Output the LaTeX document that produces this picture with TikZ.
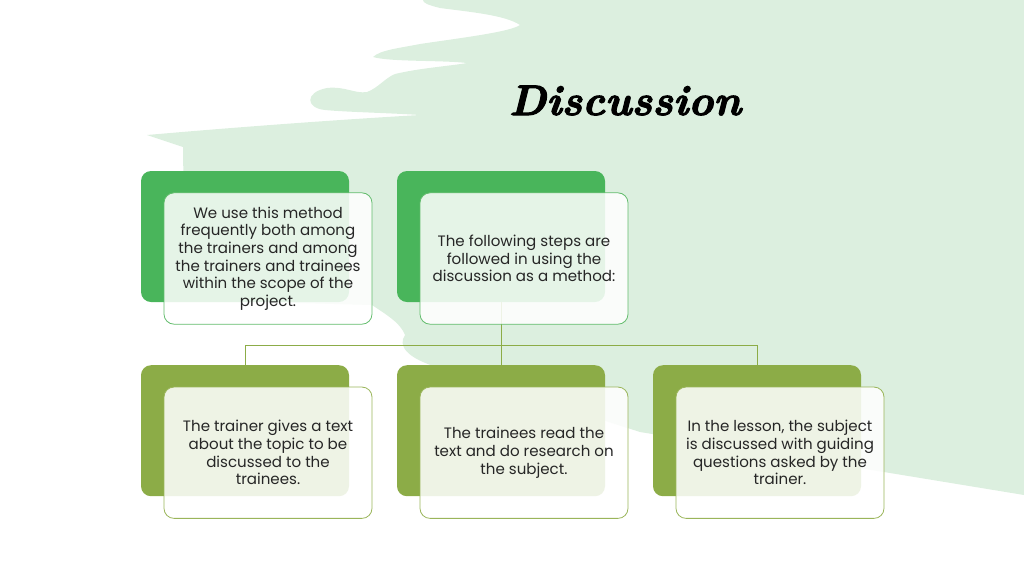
\documentclass[tikz,border=0pt]{standalone}
\usepackage{fontspec}
\newfontfamily\bodyfont{Poppins}
\newfontfamily\titlefont{lmroman10-bolditalic.otf}[FakeBold=2.5]
\usetikzlibrary{positioning}

\definecolor{brush}{HTML}{DCEFDF}
\definecolor{topgreen}{HTML}{49B55B}
\definecolor{lowgreen}{HTML}{8CAC47}
\definecolor{topline}{HTML}{62BC6C}
\definecolor{lowline}{HTML}{9AB55A}
\definecolor{ink}{HTML}{262626}

\begin{document}
\begin{tikzpicture}[x=0.75pt, y=-0.75pt,
  back/.style={rectangle, rounded corners=7.5pt, minimum width=156pt, minimum height=98.25pt, inner sep=0pt},
  front/.style={rectangle, rounded corners=7.5pt, fill=white, fill opacity=0.86, text opacity=1, line width=0.6pt,
    minimum width=156pt, minimum height=98.5pt, inner sep=0pt, align=center, text=ink,
    font=\bodyfont\fontsize{11.3}{13.2}\selectfont},
  conn/.style={draw=lowgreen, line width=0.6pt}]

  \useasboundingbox (0,0) rectangle (1024,576);

  % brush stroke behind everything
  \fill[brush] (423,0) -- (1024,0) -- (1024,495) -- (890,473) -- (640,432) -- (440,368)
    .. controls (405,358) and (398,345) .. (405,335) .. controls (400,322) and (385,314) .. (372,305)
    -- (185,300) -- (183,147) -- (147,135)
    .. controls (250,126) and (350,119) .. (420,115)
    .. controls (390,113) and (345,112) .. (325,110)
    .. controls (305,108) and (305,92) .. (327,88)
    .. controls (345,86) and (355,94) .. (367,92)
    .. controls (378,88) and (385,78) .. (395,74)
    .. controls (420,68) and (450,66) .. (467,63)
    .. controls (440,60) and (390,62) .. (373,57)
    .. controls (380,50) and (400,48) .. (420,44)
    .. controls (460,38) and (510,32) .. (520,25)
    .. controls (505,15) and (470,12) .. (440,8)
    .. controls (428,5) and (423,3) .. (423,0) -- cycle;

  \node[anchor=base, font=\titlefont\fontsize{32}{38}\selectfont] (title) at (625,115) {Discussion};

  % back boxes
  \node[back, fill=topgreen] (b1) at (245,236.5) {};
  \node[back, fill=topgreen, right=35.6pt of b1] (b2) {};
  \node[back, fill=lowgreen, below=47pt of b1] (b3) {};
  \node[back, fill=lowgreen, right=35.6pt of b3] (b4) {};
  \node[back, fill=lowgreen, right=35.6pt of b4] (b5) {};

  % tree lines
  \coordinate (hub) at ([yshift=15pt]b4.north);
  \draw[conn] (b2.south) -- (b4.north);
  \draw[conn] (b3.north) |- (hub) -| (b5.north);

  % front boxes
  \node[front, draw=topline] (f1) at ([xshift=17.25pt, yshift=-16.5pt]b1.center)
    {We use this method\\frequently both among\\the trainers and among\\the trainers and trainees\\within the scope of the\\project.};
  \node[front, draw=topline] (f2) at ([xshift=17.25pt, yshift=-16.5pt]b2.center)
    {The following steps are\\followed in using the\\discussion as a method:};
  \node[front, draw=lowline] (f3) at ([xshift=17.25pt, yshift=-16.5pt]b3.center)
    {The trainer gives a text\\about the topic to be\\discussed to the\\trainees.};
  \node[front, draw=lowline] (f4) at ([xshift=17.25pt, yshift=-16.5pt]b4.center)
    {The trainees read the\\text and do research on\\the subject.};
  \node[front, draw=lowline] (f5) at ([xshift=17.25pt, yshift=-16.5pt]b5.center)
    {In the lesson, the subject\\is discussed with guiding\\questions asked by the\\trainer.};
\end{tikzpicture}
\end{document}
